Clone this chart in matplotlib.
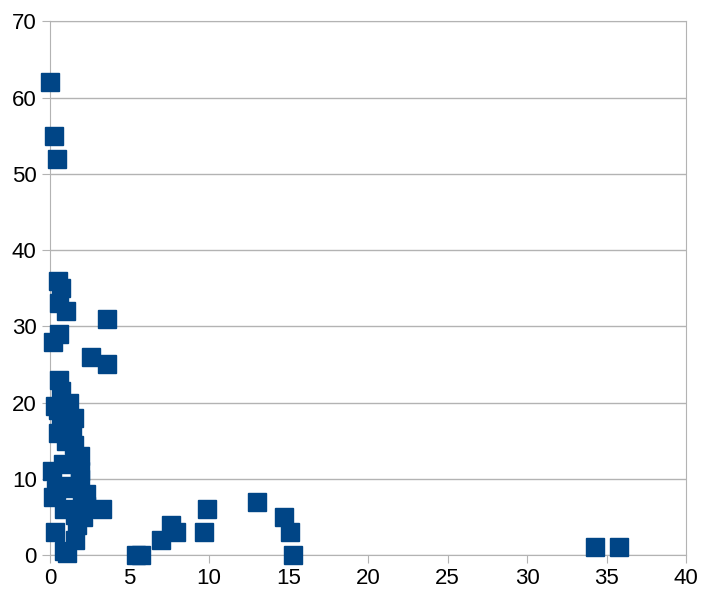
import matplotlib
matplotlib.use('Agg')
import matplotlib.pyplot as plt

# scatter points
x_vals = [0.0, 0.25, 0.45, 0.5, 0.7, 0.6, 1.0, 0.6, 0.2, 3.6, 2.6, 3.6,
          0.6, 0.7, 0.5, 0.3, 1.2, 0.7, 1.4, 0.5, 1.5, 1.9, 0.8, 1.9, 0.1,
          0.4, 0.2, 1.4, 2.3, 2.3, 3.3, 1.6, 0.3, 1.6, 0.9, 1.1, 1.9, 2.1,
          1.0, 1.5, 1.2, 0.9, 2.0, 1.7,
          5.4, 5.7, 7.0, 7.6, 7.9, 9.7, 9.9, 13.0, 14.7, 15.1, 15.3, 34.3, 35.8]
y_vals = [62, 55, 52, 36, 35, 33, 32, 29, 28, 31, 26, 25,
          23, 21.5, 19, 19.5, 20, 17, 16, 16, 14.5, 13, 12, 11, 11,
          8.5, 7.6, 8.8, 8, 6.5, 6, 5.2, 3, 2, 0.5, 0.3, 10, 5,
          15, 18, 9, 6, 7, 4,
          0, 0, 2, 4, 3, 3, 6, 7, 5, 3, 0, 1, 1]

plt.rcParams['font.family'] = ['Liberation Sans Narrow', 'Liberation Sans', 'DejaVu Sans']

fig = plt.figure(figsize=(7.03, 6.08), dpi=100)
ax = fig.add_axes([0.071, 0.087, 0.905, 0.878])

ax.plot(x_vals, y_vals, linestyle='none', marker='s', markersize=12.5,
        color='#004586', clip_on=False, zorder=3)

ax.set_xlim(0, 40)
ax.set_ylim(0, 70)
ax.set_xticks(range(0, 41, 5))
ax.set_yticks(range(0, 71, 10))
ax.yaxis.grid(True, color='#b3b3b3', linewidth=1)
ax.set_axisbelow(True)
for s in ax.spines.values():
    s.set_color('#b3b3b3')
ax.tick_params(colors='#b3b3b3', labelcolor='black', labelsize=16, length=6)

fig.savefig('out.png', dpi=100)
